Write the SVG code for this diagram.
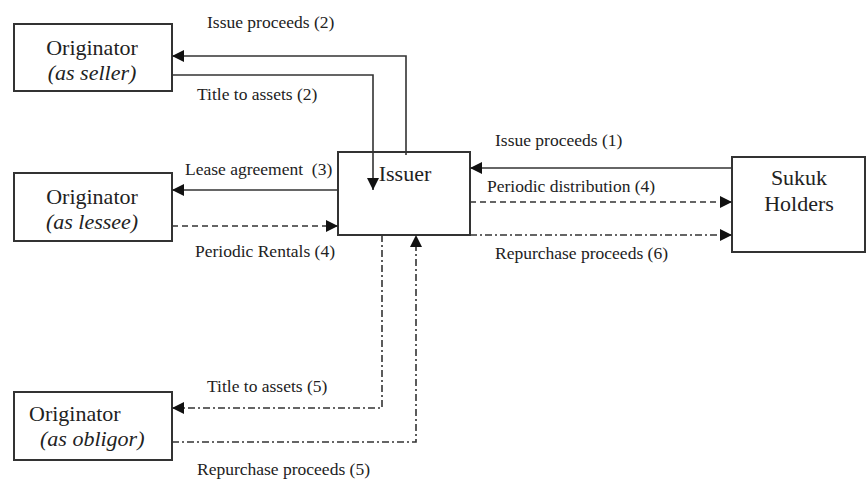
<svg xmlns="http://www.w3.org/2000/svg" width="866" height="483" viewBox="0 0 866 483">
<style>
.box{fill:#fff;stroke:#333;stroke-width:2}
.nt{font-size:22px;fill:#222}
.it{font-style:italic}
.lb{font-size:17.5px;fill:#222}
.c{fill:none;stroke:#333;stroke-width:1.6}
.d{stroke-dasharray:6,4}
.dd{stroke-dasharray:7,3,2,3}
</style>
<defs>
<marker id="ah" viewBox="0 0 10 10" refX="10" refY="5" markerWidth="16" markerHeight="12" markerUnits="userSpaceOnUse" orient="auto">
<path d="M0,0 L10,5 L0,10 z" fill="#111"/>
</marker>
</defs>
<rect width="866" height="483" fill="#fff"/>
<g font-family="Liberation Serif, DejaVu Serif, serif">
<g id="seller"><rect class="box" x="14" y="24" width="158" height="67"/>
<text class="nt" x="92" y="55" text-anchor="middle">Originator</text>
<text class="nt it" x="92" y="80" text-anchor="middle">(as seller)</text></g>
<g id="lessee"><rect class="box" x="14" y="173" width="158" height="68"/>
<text class="nt" x="92" y="204" text-anchor="middle">Originator</text>
<text class="nt it" x="92" y="229" text-anchor="middle">(as lessee)</text></g>
<g id="obligor"><rect class="box" x="14" y="392" width="158" height="68"/>
<text class="nt" x="29" y="421">Originator</text>
<text class="nt it" x="40" y="446">(as obligor)</text></g>
<g id="issuer"><rect class="box" x="338" y="152" width="132" height="83"/>
<text class="nt" x="405" y="181" text-anchor="middle">Issuer</text></g>
<g id="sukuk"><rect class="box" x="732" y="157" width="133" height="95"/>
<text class="nt" x="799" y="185" text-anchor="middle">Sukuk</text>
<text class="nt" x="799" y="211" text-anchor="middle">Holders</text></g>
<g id="connectors">
<path class="c" d="M406,155 V56 H172" marker-end="url(#ah)"/>
<path class="c" d="M172,75 H373 V190" marker-end="url(#ah)"/>
<path class="c" d="M338,190 H172" marker-end="url(#ah)"/>
<path class="c d" d="M172,226 H338" marker-end="url(#ah)"/>
<path class="c" d="M732,168 H470" marker-end="url(#ah)"/>
<path class="c d" d="M470,202 H732" marker-end="url(#ah)"/>
<path class="c dd" d="M470,235 H732" marker-end="url(#ah)"/>
<path class="c dd" d="M382,235 V408 H172" marker-end="url(#ah)"/>
<path class="c dd" d="M172,442 H416 V235" marker-end="url(#ah)"/>
</g>
<g id="labels">
<text class="lb" x="207" y="28">Issue proceeds (2)</text>
<text class="lb" x="197" y="100">Title to assets (2)</text>
<text class="lb" x="185" y="175">Lease agreement &#160;(3)</text>
<text class="lb" x="195" y="257">Periodic Rentals (4)</text>
<text class="lb" x="495" y="146">Issue proceeds (1)</text>
<text class="lb" x="487" y="192">Periodic distribution (4)</text>
<text class="lb" x="495" y="259">Repurchase proceeds (6)</text>
<text class="lb" x="207" y="392">Title to assets (5)</text>
<text class="lb" x="197" y="475">Repurchase proceeds (5)</text>
</g>
</g>
</svg>
